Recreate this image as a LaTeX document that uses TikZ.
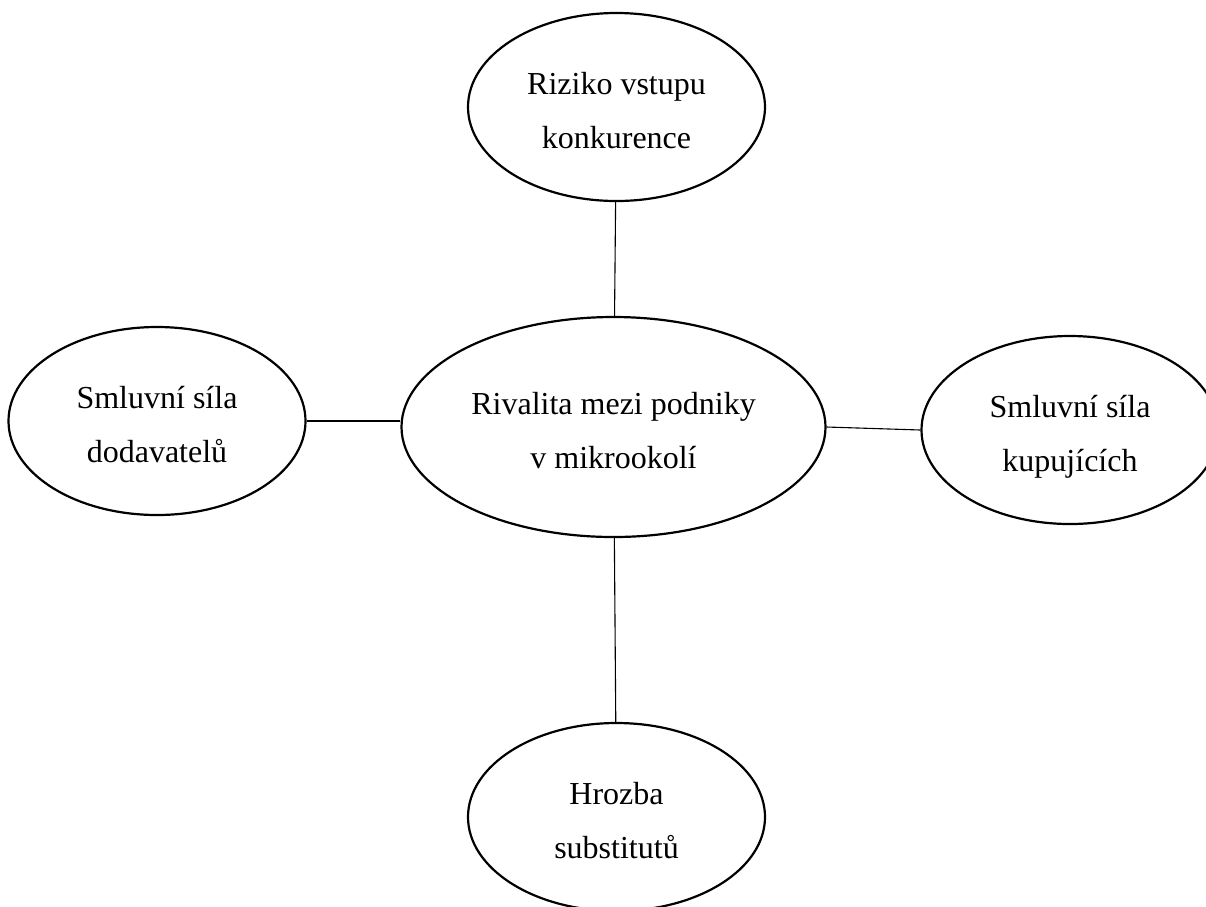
\documentclass[tikz,border=0pt]{standalone}
\usepackage{fontspec}
\setmainfont{Liberation Serif}
\usetikzlibrary{shapes.geometric}
\newcommand\firststrut{\rule{0pt}{45.5pt}}
\begin{document}
\begin{tikzpicture}[x=1pt,y=-1pt,
  force/.style={ellipse, draw=black, line width=2.2pt, inner sep=0pt,
    minimum width=297pt, minimum height=188pt, align=center,
    font=\fontsize{32}{53.5}\selectfont},
  rival/.style={force, minimum width=424pt, minimum height=220pt},
  link/.style={draw=black, line width=1.1pt}]
\useasboundingbox (0,0) rectangle (1206,906);
\node[rival] (center) at (613.5,427) {\firststrut Rivalita mezi podniky\\\strut v mikrookolí};
\node[force] (top) at (616.5,107) {\firststrut Riziko vstupu\\\strut konkurence};
\node[force] (bottom) at (616.5,817) {\firststrut Hrozba\\\strut substitutů};
\node[force] (left) at (157,421) {\firststrut Smluvní síla\\\strut dodavatelů};
\node[force] (right) at (1070,430) {\firststrut Smluvní síla\\\strut kupujících};
\draw[link] (top) -- (center);
\draw[link] (center) -- (bottom);
\draw[link] (left.east) -- (left.east -| center.west);
\draw[link] (center.east) -- (right.west);
\end{tikzpicture}
\end{document}
